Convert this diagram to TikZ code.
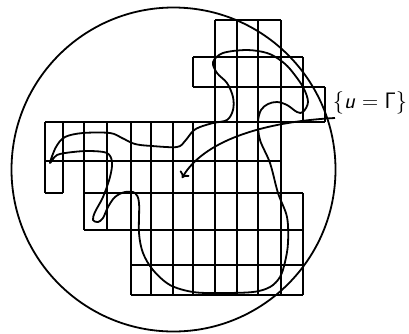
\documentclass[tikz,border=0pt]{standalone}
\usepackage{graphicx}
\usetikzlibrary{arrows.meta}
\DeclareMathAlphabet{\mathsfsl}{OT1}{cmss}{m}{sl}
\DeclareMathAlphabet{\mathsfup}{OT1}{cmss}{m}{n}
\begin{document}
\begin{tikzpicture}[x=1pt,y=-1pt,line width=1.8pt]
    \useasboundingbox (0,0) rectangle (409,333);

    % cerchio esterno
    \def\R{162pt}
    \coordinate (O) at (173.5,169.5);
    \draw (O) circle (\R);

    % griglia: righe orizzontali
    \draw (215,20) -- (281,20);
    \draw (193,57) -- (303,57);
    \draw (193,87) -- (325,87);
    \draw (45,122) -- (325,122);
    \draw (45,161) -- (281,161);
    \draw (45,193) -- (63,193);
    \draw (84,193) -- (303,193);
    \draw (84,230) -- (303,230);
    \draw (131,265) -- (303,265);
    \draw (131,295) -- (303,295);

    % griglia: colonne verticali
    \draw (45,122) -- (45,193);
    \draw (63,122) -- (63,193);
    \draw (84,122) -- (84,230);
    \draw (107,122) -- (107,230);
    \draw (131,122) -- (131,295);
    \draw (151,122) -- (151,295);
    \draw (173,122) -- (173,295);
    \draw (193,57) -- (193,87);
    \draw (193,122) -- (193,295);
    \draw (215,20) -- (215,295);
    \draw (237,20) -- (237,295);
    \draw (258,20) -- (258,295);
    \draw (281,20) -- (281,295);
    \draw (303,57) -- (303,122);
    \draw (303,193) -- (303,295);
    \draw (325,87) -- (325,122);

    % bordo Gamma
    \draw[line join=round] plot[smooth cycle,tension=0.55] coordinates {
        (50,163) (56,147) (65,137) (83,133) (110,133) (122,138) (135,144)
        (152,146) (177,147) (185,141) (193,131) (200,127) (213,123)
        (227,120) (233,110) (233,97) (227,83) (217,73) (213,62) (223,53)
        (247,50) (267,53) (280,60) (290,69) (303,87) (308,102) (303,112)
        (297,112) (287,105) (277,102) (268,104) (261,110) (258,122)
        (260,140) (270,163) (278,193) (287,217) (288,243) (285,262)
        (280,277) (270,287) (253,292) (220,293) (193,292) (170,285)
        (153,270) (143,253) (139,233) (139,203) (135,193) (125,192)
        (115,197) (108,207) (103,218) (98,222) (93,220) (95,212)
        (103,197) (110,177) (112,162) (107,153) (90,151) (73,152)
        (57,155)};

    % etichetta e freccia
    \node[anchor=east,inner sep=0pt] (lbl) at (408,103)
        {\scalebox{0.9}{\Huge$\{\mathsfsl{u}=\mathsfup{\Gamma}\}$}};
    \coordinate (tail) at (335,118);
    \coordinate (tip) at (182,178);
    \draw[-{To[length=6pt,width=11pt]}] (tail) .. controls (260,122) and (203,142) .. (tip);
\end{tikzpicture}
\end{document}
